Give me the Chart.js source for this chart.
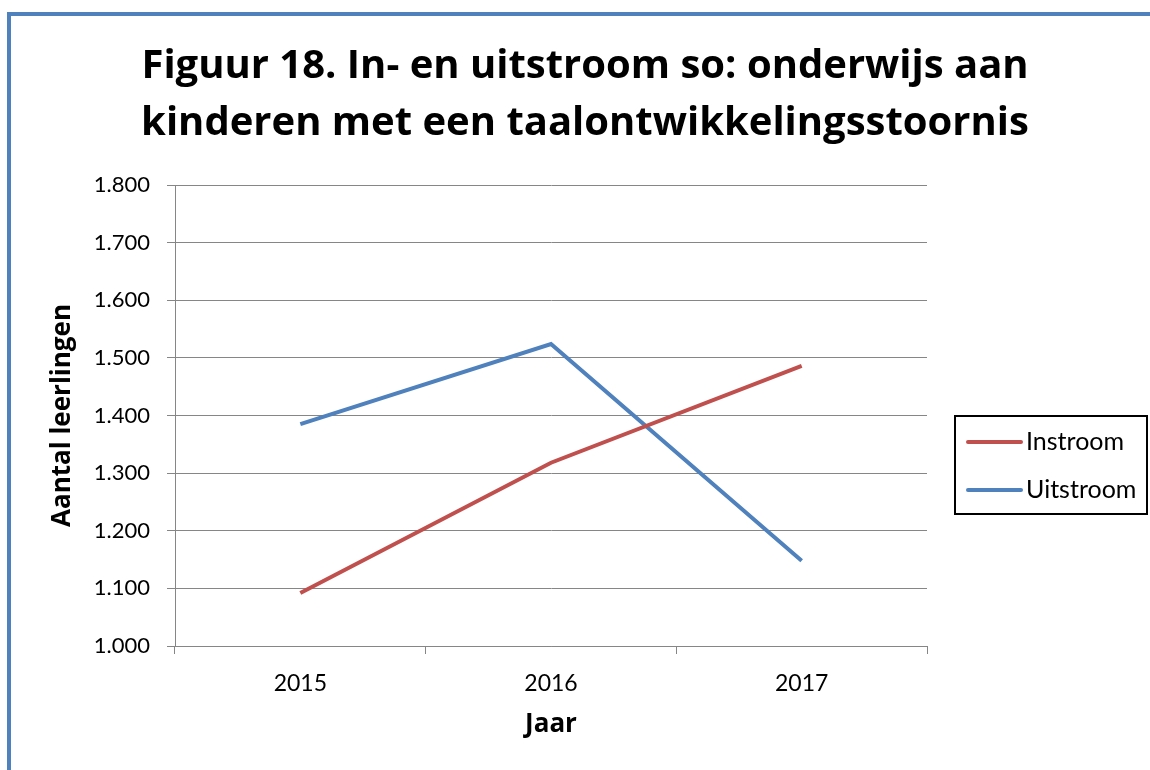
<!DOCTYPE html>
<html>
<head>
<meta charset="utf-8">
<script src="https://cdn.jsdelivr.net/npm/chart.js@4"></script>
<style>
    body { margin: 0; background: #ffffff; }
    #wrap { position: relative; width: 1150px; height: 770px; overflow: hidden; }
    /* blue frame round the figure (top and left edges visible) */
    #frame { position: absolute; left: 7px; top: 12px; width: 1200px; height: 800px;
             border-top: 4px solid #4f81bd; border-left: 4px solid #4f81bd; }
    #chart { position: absolute; left: 0; top: 0; }
</style>
</head>
<body>
<div id="wrap">
    <div id="frame"></div>
    <canvas id="chart" width="1150" height="770"></canvas>
</div>
<script>
// Chart data
const years = ['2015', '2016', '2017'];
const instroom = [1092, 1318, 1486];
const uitstroom = [1385, 1524, 1148];
const seriesNames = ['Instroom', 'Uitstroom'];
const yTicks = [1000, 1100, 1200, 1300, 1400, 1500, 1600, 1700, 1800];

const FONT = 'Lato, "Open Sans", sans-serif';
const BOLD = '"Open Sans", Lato, sans-serif';

// Dutch thousands separator: 1800 -> 1.800
function nl(v) {
    return v.toLocaleString('nl-NL');
}

// Legend drawn as a framed box on the right, like the original
const boxLegend = {
    id: 'boxLegend',
    afterDraw: function (chart) {
        const ctx = chart.ctx;
        const left = 955, top = 416, w = 192, h = 98;
        ctx.save();
        ctx.strokeStyle = '#000000';
        ctx.lineWidth = 2;
        ctx.strokeRect(left, top, w, h);
        ctx.font = '25px ' + FONT;
        ctx.textBaseline = 'middle';
        ctx.fillStyle = '#000000';
        chart.data.datasets.forEach(function (ds, i) {
            const y = top + 26 + i * 48;
            ctx.strokeStyle = ds.borderColor;
            ctx.lineWidth = 4;
            ctx.lineCap = 'round';
            ctx.beginPath();
            ctx.moveTo(968, y);
            ctx.lineTo(1021, y);
            ctx.stroke();
            ctx.fillText(ds.label, 1026, y);
        });
        ctx.restore();
    }
};

const ctx = document.getElementById('chart').getContext('2d');
new Chart(ctx, {
    type: 'line',
    data: {
        labels: years,
        datasets: [{
            label: seriesNames[0],
            data: instroom,
            borderColor: '#c0504d',
            backgroundColor: '#c0504d',
            borderWidth: 4,
            pointRadius: 0,
            tension: 0
        }, {
            label: seriesNames[1],
            data: uitstroom,
            borderColor: '#4f81bd',
            backgroundColor: '#4f81bd',
            borderWidth: 4,
            pointRadius: 0,
            tension: 0
        }]
    },
    options: {
        responsive: false,
        animation: false,
        layout: {
            padding: { left: 20, right: 0, top: 0, bottom: 0 }
        },
        plugins: {
            legend: { display: false },
            tooltip: { enabled: false },
            title: {
                display: true,
                text: ['Figuur 18. In- en uitstroom so: onderwijs aan',
                       'kinderen met een taalontwikkelingsstoornis'],
                color: '#000000',
                font: { family: BOLD, size: 40, weight: 'bold', lineHeight: '57px' },
                padding: { top: 38, bottom: 33 }
            }
        },
        scales: {
            x: {
                offset: true,
                afterFit: function (scale) { scale.height = 124; },
                grid: {
                    display: true,
                    offset: true,
                    drawOnChartArea: false,
                    drawTicks: true,
                    tickLength: 8,
                    color: '#868686'
                },
                border: { color: '#868686', width: 1 },
                ticks: {
                    color: '#000000',
                    padding: 16,
                    font: { family: FONT, size: 23 }
                },
                title: {
                    display: true,
                    text: 'Jaar',
                    color: '#000000',
                    font: { family: BOLD, size: 26, weight: 'bold' },
                    padding: { top: 0, bottom: 30 }
                }
            },
            y: {
                min: 1000,
                max: 1800,
                afterFit: function (scale) { scale.width = 155; },
                afterBuildTicks: function (scale) {
                    scale.ticks = yTicks.map(v => ({ value: v }));
                },
                grid: {
                    color: '#868686',
                    tickLength: 8
                },
                border: { color: '#868686', width: 1 },
                ticks: {
                    color: '#000000',
                    padding: 17,
                    font: { family: FONT, size: 22 },
                    callback: function (v) { return nl(v); }
                },
                title: {
                    display: true,
                    text: 'Aantal leerlingen',
                    color: '#000000',
                    font: { family: BOLD, size: 26, weight: 'bold' },
                    padding: { top: 27, bottom: 0 }
                }
            },
            // empty axis that only reserves room for the legend box
            legendSpace: {
                type: 'linear',
                position: 'right',
                afterFit: function (scale) { scale.width = 223; },
                grid: { display: false },
                border: { display: false },
                ticks: { display: false }
            }
        }
    },
    plugins: [boxLegend]
});
</script>
</body>
</html>
